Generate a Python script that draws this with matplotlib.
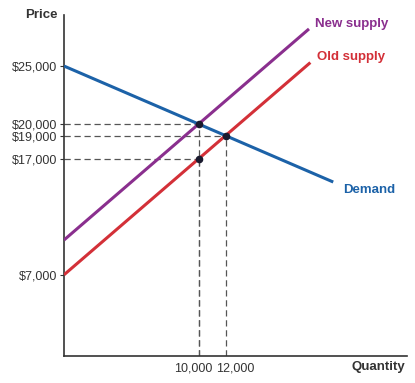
import matplotlib
matplotlib.use("Agg")
import matplotlib.pyplot as plt
from matplotlib.transforms import ScaledTranslation

plt.rcParams['font.family'] = ['Liberation Sans', 'DejaVu Sans']

# Data
demand_q = [0, 20000]
demand_p = [25000, 15000]
old_supply_q = [0, 18300]
old_supply_p = [7000, 25300]
new_supply_q = [0, 18200]
new_supply_p = [10000, 28200]

eq_q = [10000, 12000, 10000]
eq_p = [20000, 19000, 17000]

y_ticks = [25000, 20000, 19000, 17000, 7000]
y_labels = ["$25,000", "$20,000", "$19,000", "$17,000", "$7,000"]
x_ticks = [10000, 12000]
x_labels = ["10,000", "12,000"]

c_demand = "#1C62A8"
c_old = "#D33038"
c_new = "#8A2F8E"

fig = plt.figure(figsize=(4.15, 3.83), dpi=100)
ax = fig.add_axes([64/415, 27/383, 343/415, 341/383])
ax.set_xlim(0, 25480)
ax.set_ylim(0, 29400)

# dashed guides
for q, p in zip(eq_q, eq_p):
    ax.plot([0, q], [p, p], color="#555555", lw=0.9, ls=(0, (5, 3)), zorder=1)
    ax.plot([q, q], [0, p], color="#555555", lw=0.9, ls=(0, (5, 3)), zorder=1)

ax.plot(demand_q, demand_p, color=c_demand, lw=2.2, solid_capstyle='butt', zorder=3)
ax.plot(old_supply_q, old_supply_p, color=c_old, lw=2.2, solid_capstyle='butt', zorder=3)
ax.plot(new_supply_q, new_supply_p, color=c_new, lw=2.2, solid_capstyle='butt', zorder=3)

ax.scatter(eq_q, eq_p, s=20, color="#1a1a2e", zorder=4)

ax.text(18670, 28600, "New supply", color=c_new,
        fontsize=9.5, fontweight='bold', va='center', ha='left')
ax.text(18815, 25750, "Old supply", color=c_old,
        fontsize=9.5, fontweight='bold', va='center', ha='left')
ax.text(20740, 14300, "Demand", color=c_demand,
        fontsize=9.5, fontweight='bold', va='center', ha='left')

for s in ['top', 'right']:
    ax.spines[s].set_visible(False)
for s in ['left', 'bottom']:
    ax.spines[s].set_color("#333333")
    ax.spines[s].set_linewidth(1.2)

ax.set_yticks(y_ticks)
ax.set_yticklabels(y_labels, fontsize=9, color="#333333")
ax.set_xticks(x_ticks)
ax.set_xticklabels(x_labels, fontsize=9, color="#333333")
ax.tick_params(axis='y', length=3, width=0.8, color="#333333", pad=2)
ax.tick_params(axis='x', length=0, pad=5)

# spread the two close quantity labels apart like the reference
xl = ax.get_xticklabels()
xl[0].set_ha('right')
xl[0].set_transform(xl[0].get_transform() + ScaledTranslation(14/100, 0, fig.dpi_scale_trans))
xl[1].set_ha('left')
xl[1].set_transform(xl[1].get_transform() + ScaledTranslation(-9/100, 0, fig.dpi_scale_trans))

fig.text(58/415, 1 - 15/383, "Price", fontsize=9.5, fontweight='bold', color="#333333",
         ha='right', va='center')
fig.text(405/415, 1 - 367/383, "Quantity", fontsize=9.5, fontweight='bold', color="#333333",
         ha='right', va='center')

fig.savefig("out.png", dpi=100)
